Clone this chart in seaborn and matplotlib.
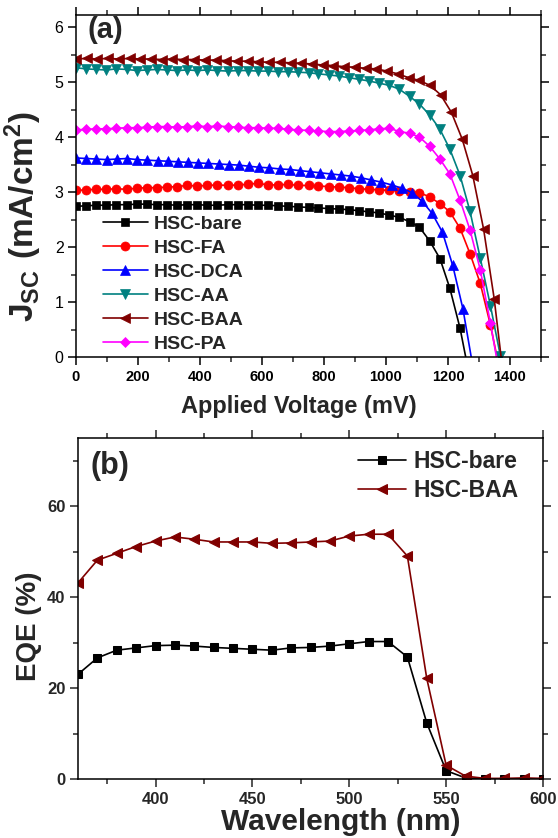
import matplotlib
matplotlib.use("Agg")
import matplotlib.pyplot as plt
from matplotlib.ticker import MultipleLocator
import seaborn as sns

# ---- (a) J-V curves, voltage in mV, current density in mA/cm2 ----
series_names = ["HSC-bare", "HSC-FA", "HSC-DCA", "HSC-AA", "HSC-BAA", "HSC-PA"]

v_bare = [0, 33, 65, 98, 130, 163, 196, 228, 261, 293, 326, 359, 391, 424, 456, 489, 522, 554, 587, 619,
          652, 685, 717, 750, 782, 815, 848, 880, 913, 945, 978, 1011, 1043, 1076, 1108, 1141, 1174, 1206, 1239, 1271]
j_bare = [2.74, 2.75, 2.76, 2.76, 2.77, 2.77, 2.78, 2.78, 2.77, 2.77, 2.76, 2.77, 2.77, 2.76, 2.76, 2.77, 2.77, 2.77, 2.76, 2.76,
          2.75, 2.74, 2.73, 2.72, 2.71, 2.70, 2.69, 2.68, 2.66, 2.64, 2.62, 2.58, 2.54, 2.46, 2.36, 2.11, 1.79, 1.25, 0.52, -0.40]

v_fa = [0, 33, 65, 98, 130, 163, 196, 228, 261, 293, 326, 359, 391, 424, 456, 489, 522, 554, 587, 619,
        652, 685, 717, 750, 782, 815, 848, 880, 913, 945, 978, 1011, 1043, 1076, 1108, 1141, 1174, 1206, 1239, 1271,
        1304, 1337, 1369]
j_fa = [3.03, 3.04, 3.05, 3.05, 3.06, 3.05, 3.07, 3.08, 3.08, 3.09, 3.10, 3.12, 3.11, 3.12, 3.13, 3.12, 3.13, 3.14, 3.16, 3.13,
        3.13, 3.14, 3.12, 3.12, 3.11, 3.10, 3.09, 3.08, 3.06, 3.05, 3.04, 3.03, 3.02, 3.00, 2.99, 2.91, 2.79, 2.64, 2.34, 1.88,
        1.34, 0.58, -0.30]

v_dca = [0, 33, 66, 99, 131, 164, 197, 230, 263, 296, 328, 361, 394, 427, 460, 493, 525, 558, 591, 624,
         657, 690, 722, 755, 788, 821, 854, 887, 919, 952, 985, 1018, 1051, 1084, 1117, 1149, 1182, 1215, 1248, 1281]
j_dca = [3.62, 3.61, 3.60, 3.59, 3.60, 3.61, 3.59, 3.58, 3.57, 3.56, 3.55, 3.54, 3.53, 3.52, 3.51, 3.50, 3.49, 3.47, 3.45, 3.44,
         3.42, 3.41, 3.39, 3.37, 3.35, 3.33, 3.31, 3.29, 3.26, 3.22, 3.18, 3.13, 3.07, 2.99, 2.83, 2.61, 2.27, 1.67, 0.88, -0.20]

v_aa = [0, 33, 65, 98, 130, 163, 196, 228, 261, 293, 326, 359, 391, 424, 456, 489, 522, 554, 587, 619,
        652, 685, 717, 750, 782, 815, 848, 880, 913, 945, 978, 1011, 1043, 1076, 1108, 1141, 1174, 1206, 1239, 1271,
        1304, 1337, 1369, 1402]
j_aa = [5.26, 5.24, 5.23, 5.22, 5.24, 5.23, 5.21, 5.22, 5.23, 5.22, 5.21, 5.22, 5.21, 5.22, 5.21, 5.20, 5.21, 5.21, 5.20, 5.20,
        5.19, 5.19, 5.18, 5.17, 5.15, 5.13, 5.11, 5.08, 5.05, 5.02, 4.98, 4.94, 4.87, 4.74, 4.60, 4.40, 4.14, 3.78, 3.30, 2.65,
        1.80, 0.93, 0.02, -0.90]

v_baa = [0, 35, 69, 104, 138, 173, 208, 242, 277, 311, 346, 381, 415, 450, 484, 519, 554, 588, 623, 657,
         692, 727, 761, 796, 830, 865, 900, 934, 969, 1003, 1038, 1073, 1107, 1142, 1176, 1211, 1246, 1280, 1315, 1349,
         1384]
j_baa = [5.42, 5.43, 5.42, 5.43, 5.42, 5.43, 5.42, 5.42, 5.41, 5.42, 5.41, 5.41, 5.40, 5.40, 5.39, 5.38, 5.38, 5.37, 5.36, 5.36,
         5.35, 5.34, 5.33, 5.31, 5.30, 5.28, 5.27, 5.25, 5.24, 5.20, 5.15, 5.08, 5.03, 4.94, 4.77, 4.45, 3.96, 3.30, 2.32, 1.06,
         -0.60]

v_pa = [0, 33, 65, 98, 130, 163, 196, 228, 261, 293, 326, 359, 391, 424, 456, 489, 522, 554, 587, 619,
        652, 685, 717, 750, 782, 815, 848, 880, 913, 945, 978, 1011, 1043, 1076, 1108, 1141, 1174, 1206, 1239, 1271,
        1304, 1337, 1369]
j_pa = [4.13, 4.14, 4.15, 4.15, 4.16, 4.17, 4.17, 4.18, 4.19, 4.19, 4.18, 4.19, 4.20, 4.19, 4.20, 4.19, 4.18, 4.17, 4.17, 4.16,
        4.16, 4.14, 4.13, 4.12, 4.11, 4.10, 4.10, 4.11, 4.12, 4.13, 4.15, 4.16, 4.10, 4.07, 4.00, 3.83, 3.60, 3.33, 2.85, 2.31,
        1.59, 0.61, -0.40]

# ---- (b) EQE spectra ----
wavelength = [360, 370, 380, 390, 400, 410, 420, 430, 440, 450, 460, 470, 480, 490, 500,
              510, 520, 530, 540, 550, 560, 570, 580, 590, 600]
eqe_bare = [23.1, 26.7, 28.4, 28.9, 29.4, 29.5, 29.3, 29.0, 28.8, 28.6, 28.4, 28.9, 29.0, 29.3, 29.8,
            30.3, 30.3, 26.9, 12.4, 1.9, 0.3, 0.1, 0.1, 0.1, 0.1]
eqe_baa = [43.2, 48.2, 49.7, 51.2, 52.4, 53.3, 52.8, 52.2, 52.2, 52.2, 51.9, 52.0, 52.2, 52.4, 53.5,
           53.9, 53.9, 49.1, 22.2, 3.1, 0.7, 0.2, 0.2, 0.3, 0.2]

colors = ["#000000", "#FF0000", "#0000FF", "#008080", "#800000", "#FF00FF"]
markers = ["s", "o", "^", "v", "<", "D"]
msizes = [6, 6.5, 7, 7, 7, 5.5]

sns.set_style("ticks")
plt.rcParams["font.family"] = ["Liberation Sans", "DejaVu Sans"]
plt.rcParams["mathtext.fontset"] = "custom"
plt.rcParams["mathtext.rm"] = "Liberation Sans"
plt.rcParams["mathtext.bf"] = "Liberation Sans:bold"
plt.rcParams["axes.linewidth"] = 1.1
plt.rcParams["axes.edgecolor"] = "black"

fig = plt.figure(figsize=(5.58, 8.38), dpi=100)
ax1 = fig.add_axes([76 / 558, 1 - 357 / 838, 465 / 558, 342 / 838])
ax2 = fig.add_axes([78 / 558, 1 - 779.3 / 838, 465 / 558, 341 / 838])

volts = [v_bare, v_fa, v_dca, v_aa, v_baa, v_pa]
currents = [j_bare, j_fa, j_dca, j_aa, j_baa, j_pa]
for name, v, j, c, m, ms in zip(series_names, volts, currents, colors, markers, msizes):
    sns.lineplot(x=v, y=j, color=c, marker=m, markersize=ms, markeredgecolor=c,
                 markeredgewidth=0.5, lw=1.2, estimator=None, sort=False, label=name, ax=ax1)

ax1.set_xlim(0, 1500)
ax1.set_ylim(0, 6.22)
ax1.xaxis.set_major_locator(MultipleLocator(200))
ax1.xaxis.set_minor_locator(MultipleLocator(100))
ax1.yaxis.set_major_locator(MultipleLocator(1))
ax1.yaxis.set_minor_locator(MultipleLocator(0.5))
ax1.tick_params(which="major", direction="out", length=6, width=1.1, top=True, right=True,
                colors="black", pad=3)
ax1.tick_params(which="minor", direction="out", length=3.5, width=1.1, top=True, right=True)
ax1.tick_params(axis="x", labelsize=10.5)
ax1.tick_params(axis="y", labelsize=11.5)
plt.setp(ax1.get_xticklabels(), fontweight="bold")
ax1.set_xlabel("Applied Voltage (mV)", fontsize=17, fontweight="bold")
ax1.set_ylabel(r"$\mathbf{J_{SC}\ (mA/cm^{2})}$", fontsize=24)
ax1.xaxis.set_label_coords(0.48, -0.111)
ax1.yaxis.set_label_coords(-0.068, 0.41)
ax1.text(0.024, 0.956, "(a)", transform=ax1.transAxes, fontsize=21, fontweight="bold",
         ha="left", va="center")
ax1.legend(loc="lower left", bbox_to_anchor=(0.058, 0.012), frameon=False, borderpad=0,
           borderaxespad=0, handlelength=2.3, handletextpad=0.3, labelspacing=0.33,
           prop={"size": 14, "weight": "bold"})

sns.lineplot(x=wavelength, y=eqe_bare, color="#000000", marker="s", markersize=6,
             markeredgecolor="#000000", lw=1.2, estimator=None, sort=False, label="HSC-bare", ax=ax2)
sns.lineplot(x=wavelength, y=eqe_baa, color="#800000", marker="<", markersize=7.5,
             markeredgecolor="#800000", lw=1.2, estimator=None, sort=False, label="HSC-BAA", ax=ax2)

ax2.set_xlim(360, 600)
ax2.set_ylim(0, 75)
ax2.xaxis.set_major_locator(MultipleLocator(50))
ax2.xaxis.set_minor_locator(MultipleLocator(25))
ax2.yaxis.set_major_locator(MultipleLocator(20))
ax2.yaxis.set_minor_locator(MultipleLocator(10))
ax2.tick_params(which="major", direction="out", length=6, width=1.1, top=True, right=True,
                labelsize=12, pad=3)
ax2.tick_params(which="minor", direction="out", length=3.5, width=1.1, top=True, right=True)
plt.setp(ax2.get_xticklabels() + ax2.get_yticklabels(), fontweight="bold")
ax2.set_xlabel("Wavelength (nm)", fontsize=21.5, fontweight="bold")
ax2.set_ylabel("EQE (%)", fontsize=20, fontweight="bold")
ax2.xaxis.set_label_coords(0.566, -0.084)
ax2.yaxis.set_label_coords(-0.078, 0.448)
ax2.text(0.027, 0.919, "(b)", transform=ax2.transAxes, fontsize=22, fontweight="bold",
         ha="left", va="center")
ax2.legend(loc="upper left", bbox_to_anchor=(0.602, 0.967), frameon=False, borderpad=0,
           borderaxespad=0, handlelength=2.1, handletextpad=0.32, labelspacing=0.27,
           prop={"size": 16.5, "weight": "bold"})

fig.savefig("out.png", dpi=100)
